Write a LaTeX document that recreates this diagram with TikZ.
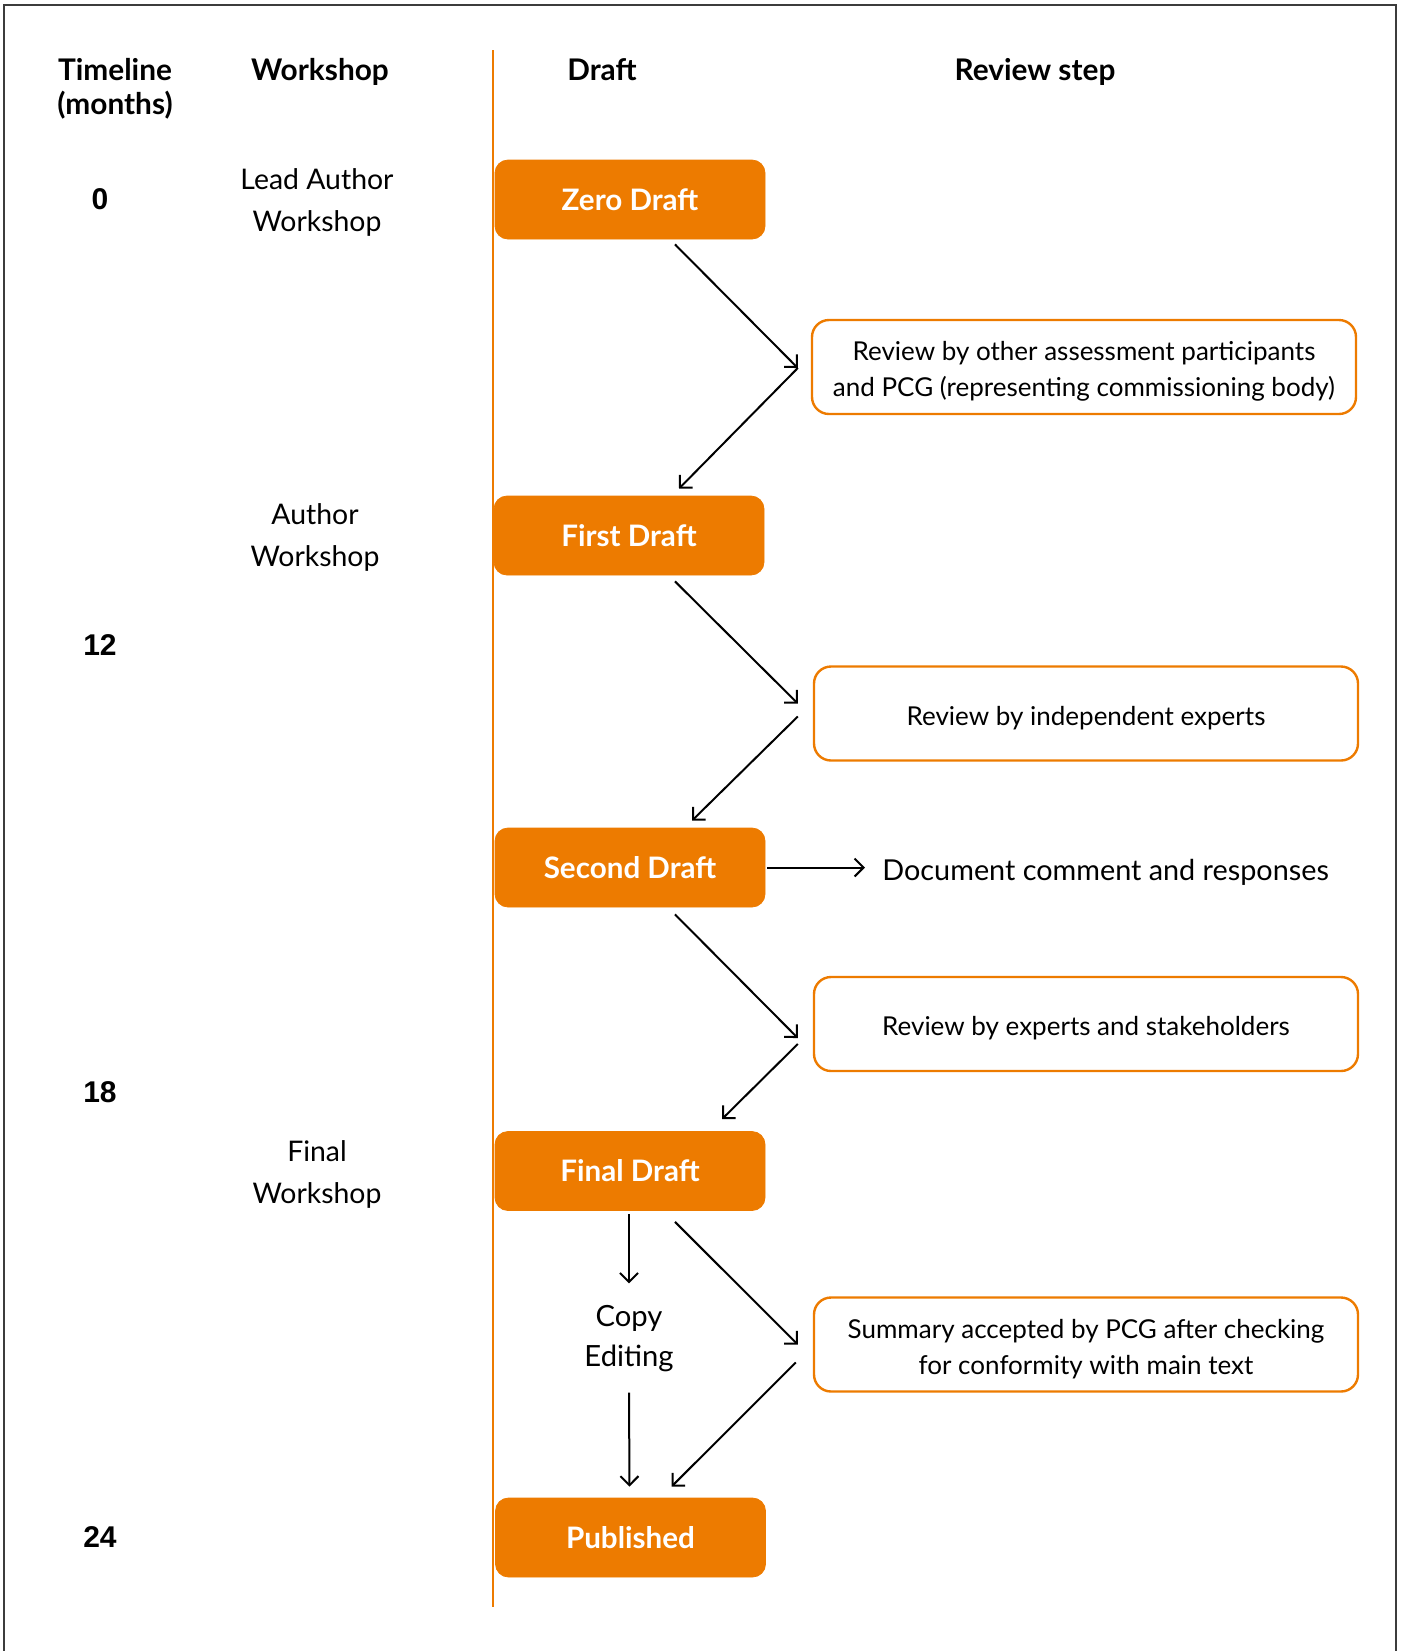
\documentclass[tikz,border=0pt]{standalone}
\usepackage{fontspec}
\setmainfont{Lato}
\newfontfamily\numfont{Liberation Sans}
\usetikzlibrary{arrows.meta, calc}
\definecolor{draftorange}{RGB}{237,123,0}
\definecolor{framegray}{RGB}{60,60,60}

\begin{document}
\begin{tikzpicture}[
    x=0.5pt, y=-0.5pt,
    draft/.style={
        rectangle,
        rounded corners=6.5pt,
        fill=draftorange,
        draw=draftorange,
        text=white,
        font=\fontsize{14.8}{17}\selectfont\bfseries,
        minimum width=135pt,
        minimum height=39.5pt,
        inner sep=0pt
    },
    review/.style={
        rectangle,
        rounded corners=8.5pt,
        draw=draftorange,
        line width=1.2pt,
        align=center,
        font=\fontsize{13}{18}\selectfont,
        execute at begin node={\rule{0pt}{14pt}},
        minimum width=272pt,
        minimum height=47pt,
        inner sep=0pt
    },
    review2/.style={
        review,
        execute at begin node={\rule{0pt}{32pt}}
    },
    header/.style={font=\fontsize{14.9}{17}\selectfont\bfseries, align=center},
    month/.style={font=\numfont\fontsize{15}{18}\selectfont\bfseries},
    label/.style={font=\fontsize{14.2}{21}\selectfont, align=center, inner sep=0pt},
    flow/.style={line width=1pt, -{Straight Barb[length=4.5pt, width=9pt]}}
    ]
    \useasboundingbox (0,0) rectangle (1402,1651);
    \draw[framegray, line width=0.8pt] (4,1651) -- (4,5) -- (1396,5) -- (1396,1651);
    \draw[draftorange, line width=1.25pt] (493,50) -- (493,1607);

    \node[header] (hdtime) at (115,89) {Timeline\\(months)};
    \node[header] (hdwork) at (320,72) {Workshop};
    \node[header] (hddraft) at (602,70) {Draft};
    \node[header] (hdreview) at (1035,72) {Review step};

    \node[month] (m0) at (100,199) {0};
    \node[month] (m12) at (100,645) {12};
    \node[month] (m18) at (100,1092) {18};
    \node[month] (m24) at (100,1537) {24};

    \node[label] (ws1) at (317,202) {Lead Author\\Workshop};
    \node[label] (ws2) at (315,537) {Author\\Workshop};
    \node[label] (ws3) at (317,1174) {Final\\Workshop};

    \node[draft] (zero) at (630,199.5) {Zero Draft};
    \node[draft] (first) at (629,535.5) {First Draft};
    \node[draft] (second) at (630,867.5) {Second Draft};
    \node[draft] (final) at (630,1171) {Final Draft};
    \node[draft] (pub) at (630.5,1537.5) {Published};

    \node[review2] (r1) at (1084,367) {Review by other assessment participants\\and PCG (representing commissioning body)};
    \node[review] (r2) at (1086,713.5) {Review by independent experts};
    \node[review] (r3) at (1086,1024) {Review by experts and stakeholders};
    \node[review2] (r4) at (1086,1344.5) {Summary accepted by PCG after checking\\for conformity with main text};

    \node[label, anchor=west, font=\fontsize{14.4}{21}\selectfont] (doc) at (882,872) {Document comment and responses};
    \node[label, font=\fontsize{14.6}{20}\selectfont] (copy) at (629,1339) {Copy\\Editing};

    \draw[flow] ($(zero.south)+(45,5)$) -- ($(r1.west)+(-13,1)$);
    \draw[flow] ($(r1.west)+(-13,1)$) -- ($(first.north)+(50,-7)$);
    \draw[flow] ($(first.south)+(46,6)$) -- ($(r2.west)+(-15,-10)$);
    \draw[flow] ($(r2.west)+(-15,3)$) -- ($(second.north)+(62,-7)$);
    \draw[flow] ($(second.east)+(2,0)$) -- ($(second.east -| doc.west)+(-17,0)$);
    \draw[flow] ($(second.south)+(45,7)$) -- ($(r3.west)+(-15,14)$);
    \draw[flow] ($(r3.west)+(-15,20)$) -- ($(final.north)+(92,-12)$);
    \draw[flow] ($(final.south)+(-1,3)$) -- ($(copy.north)+(0,-22)$);
    \draw[flow] ($(copy.south)+(0,20)$) -- ($(pub.north)+(-1,-11)$);
    \draw[flow] ($(final.south)+(45,11)$) -- ($(r4.west)+(-15,0)$);
    \draw[flow] ($(r4.west)+(-17,18)$) -- ($(pub.north)+(41,-11)$);
\end{tikzpicture}
\end{document}
